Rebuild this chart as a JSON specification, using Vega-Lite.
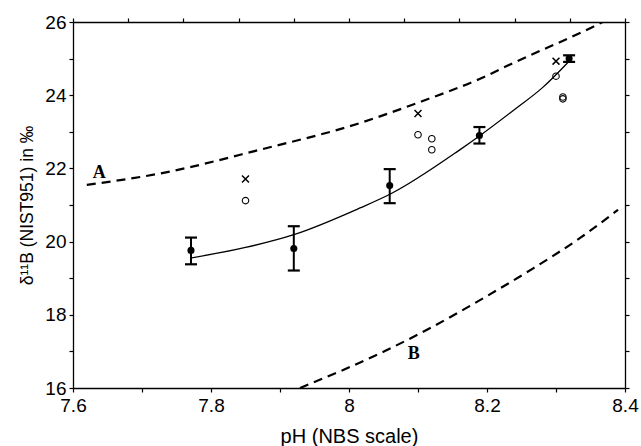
{
  "$schema": "https://vega.github.io/schema/vega-lite/v6.json",
  "width": 552,
  "height": 366,
  "autosize": {"type": "none"},
  "padding": {"left": 73, "top": 22, "right": 16, "bottom": 58},
  "background": "white",
  "config": {
    "view": {"stroke": null},
    "axis": {
      "grid": false,
      "domainColor": "black",
      "domainWidth": 1.3,
      "tickColor": "black",
      "tickWidth": 1.2,
      "tickSize": 4,
      "labelColor": "black",
      "labelFont": "Liberation Sans",
      "labelFontSize": 19,
      "titleFont": "Liberation Sans",
      "titleFontSize": 19,
      "titleFontWeight": "normal",
      "titleColor": "black"
    }
  },
  "datasets": {
    "fit": [
      {"pH": 7.77, "d11B": 19.55},
      {"pH": 7.85, "d11B": 19.84},
      {"pH": 7.92, "d11B": 20.19},
      {"pH": 8.016, "d11B": 20.92},
      {"pH": 8.06, "d11B": 21.3},
      {"pH": 8.16, "d11B": 22.5},
      {"pH": 8.19, "d11B": 22.9},
      {"pH": 8.24, "d11B": 23.61},
      {"pH": 8.28, "d11B": 24.2},
      {"pH": 8.32, "d11B": 24.95}
    ],
    "bounds": [
      {"curve": "A", "pH": 7.62, "d11B": 21.55},
      {"curve": "A", "pH": 7.726, "d11B": 21.86},
      {"curve": "A", "pH": 7.871, "d11B": 22.51},
      {"curve": "A", "pH": 8.016, "d11B": 23.24},
      {"curve": "A", "pH": 8.105, "d11B": 23.83},
      {"curve": "A", "pH": 8.19, "d11B": 24.45},
      {"curve": "A", "pH": 8.238, "d11B": 24.88},
      {"curve": "A", "pH": 8.354, "d11B": 25.87},
      {"curve": "A", "pH": 8.37, "d11B": 26.02},
      {"curve": "B", "pH": 7.929, "d11B": 16.0},
      {"curve": "B", "pH": 8.052, "d11B": 17.01},
      {"curve": "B", "pH": 8.113, "d11B": 17.59},
      {"curve": "B", "pH": 8.197, "d11B": 18.48},
      {"curve": "B", "pH": 8.267, "d11B": 19.27},
      {"curve": "B", "pH": 8.335, "d11B": 20.1},
      {"curve": "B", "pH": 8.39, "d11B": 20.87}
    ],
    "measured": [
      {"pH": 7.771, "d11B": 19.76, "lo": 19.38, "hi": 20.11},
      {"pH": 7.92, "d11B": 19.81, "lo": 19.21, "hi": 20.42},
      {"pH": 8.059, "d11B": 21.53, "lo": 21.05, "hi": 21.98},
      {"pH": 8.189, "d11B": 22.9, "lo": 22.68, "hi": 23.13},
      {"pH": 8.319, "d11B": 25.0, "lo": 24.91, "hi": 25.09}
    ],
    "open": [
      {"pH": 7.85, "d11B": 21.12},
      {"pH": 8.1, "d11B": 22.92},
      {"pH": 8.12, "d11B": 22.81},
      {"pH": 8.12, "d11B": 22.51},
      {"pH": 8.3, "d11B": 24.52},
      {"pH": 8.31, "d11B": 23.95},
      {"pH": 8.31, "d11B": 23.9}
    ],
    "cross": [
      {"pH": 7.85, "d11B": 21.71},
      {"pH": 8.1, "d11B": 23.5},
      {"pH": 8.3, "d11B": 24.93}
    ],
    "labels": [
      {"pH": 7.638, "d11B": 21.88, "label": "A"},
      {"pH": 8.094, "d11B": 16.93, "label": "B"}
    ]
  },
  "resolve": {"axis": {"x": "independent", "y": "independent"}},
  "layer": [
    {
      "data": {"name": "fit"},
      "mark": {"type": "line", "color": "black", "strokeWidth": 1.3, "interpolate": "monotone"},
      "encoding": {
        "x": {
          "field": "pH", "type": "quantitative",
          "scale": {"domain": [7.6, 8.4], "nice": false, "zero": false},
          "axis": {
            "orient": "bottom",
            "title": "pH (NBS scale)",
            "titleFontSize": 20,
            "values": [7.6, 7.7, 7.8, 7.9, 8.0, 8.1, 8.2, 8.3, 8.4],
            "labelExpr": "round(datum.value*10) % 2 == 0 ? format(datum.value, '~g') : ''",
            "labelPadding": 4,
            "titlePadding": 11,
            "labelFlush": false,
            "labelOverlap": false
          }
        },
        "y": {
          "field": "d11B", "type": "quantitative",
          "scale": {"domain": [16, 26], "nice": false, "zero": false},
          "axis": {
            "orient": "left",
            "title": "δ¹¹B (NIST951) in ‰",
            "titleFontSize": 17.5,
            "values": [16, 17, 18, 19, 20, 21, 22, 23, 24, 25, 26],
            "labelExpr": "datum.value % 2 == 0 ? datum.value : ''",
            "labelPadding": 3,
            "titlePadding": 8,
            "labelFlush": false,
            "labelOverlap": false
          }
        }
      }
    },
    {
      "data": {"name": "bounds"},
      "mark": {"type": "line", "color": "black", "strokeWidth": 2.2, "strokeDash": [9, 6], "clip": true, "interpolate": "monotone"},
      "encoding": {
        "x": {
          "field": "pH", "type": "quantitative",
          "axis": {
            "orient": "top", "title": null, "labels": false,
            "values": [7.6, 7.68, 7.76, 7.84, 7.92, 8.0, 8.08, 8.16, 8.24, 8.32, 8.4]
          }
        },
        "y": {
          "field": "d11B", "type": "quantitative",
          "axis": {
            "orient": "right", "title": null, "labels": false,
            "values": [16, 17, 18, 19, 20, 21, 22, 23, 24, 25, 26]
          }
        },
        "detail": {"field": "curve"}
      }
    },
    {
      "data": {"name": "measured"},
      "mark": {"type": "rule", "color": "black", "strokeWidth": 2},
      "encoding": {
        "x": {"field": "pH", "type": "quantitative", "axis": null},
        "y": {"field": "lo", "type": "quantitative", "axis": null},
        "y2": {"field": "hi"}
      }
    },
    {
      "data": {"name": "measured"},
      "mark": {"type": "point", "shape": "M-1,0L1,0", "size": 144, "filled": false, "stroke": "black", "strokeWidth": 2.2, "opacity": 1},
      "encoding": {
        "x": {"field": "pH", "type": "quantitative", "axis": null},
        "y": {"field": "lo", "type": "quantitative", "axis": null}
      }
    },
    {
      "data": {"name": "measured"},
      "mark": {"type": "point", "shape": "M-1,0L1,0", "size": 144, "filled": false, "stroke": "black", "strokeWidth": 2.2, "opacity": 1},
      "encoding": {
        "x": {"field": "pH", "type": "quantitative", "axis": null},
        "y": {"field": "hi", "type": "quantitative", "axis": null}
      }
    },
    {
      "data": {"name": "measured"},
      "mark": {"type": "point", "shape": "circle", "size": 50, "filled": true, "color": "black", "opacity": 1},
      "encoding": {
        "x": {"field": "pH", "type": "quantitative", "axis": null},
        "y": {"field": "d11B", "type": "quantitative", "axis": null}
      }
    },
    {
      "data": {"name": "open"},
      "mark": {"type": "point", "shape": "circle", "size": 42, "filled": false, "stroke": "black", "strokeWidth": 1.1, "opacity": 1},
      "encoding": {
        "x": {"field": "pH", "type": "quantitative", "axis": null},
        "y": {"field": "d11B", "type": "quantitative", "axis": null}
      }
    },
    {
      "data": {"name": "cross"},
      "mark": {"type": "point", "shape": "M-1,-1L1,1M-1,1L1,-1", "size": 48, "filled": false, "stroke": "black", "strokeWidth": 1.5, "opacity": 1},
      "encoding": {
        "x": {"field": "pH", "type": "quantitative", "axis": null},
        "y": {"field": "d11B", "type": "quantitative", "axis": null}
      }
    },
    {
      "data": {"name": "labels"},
      "mark": {"type": "text", "font": "Liberation Serif", "fontWeight": "bold", "fontSize": 18, "color": "black", "align": "center", "baseline": "middle"},
      "encoding": {
        "x": {"field": "pH", "type": "quantitative", "axis": null},
        "y": {"field": "d11B", "type": "quantitative", "axis": null},
        "text": {"field": "label"}
      }
    }
  ]
}
